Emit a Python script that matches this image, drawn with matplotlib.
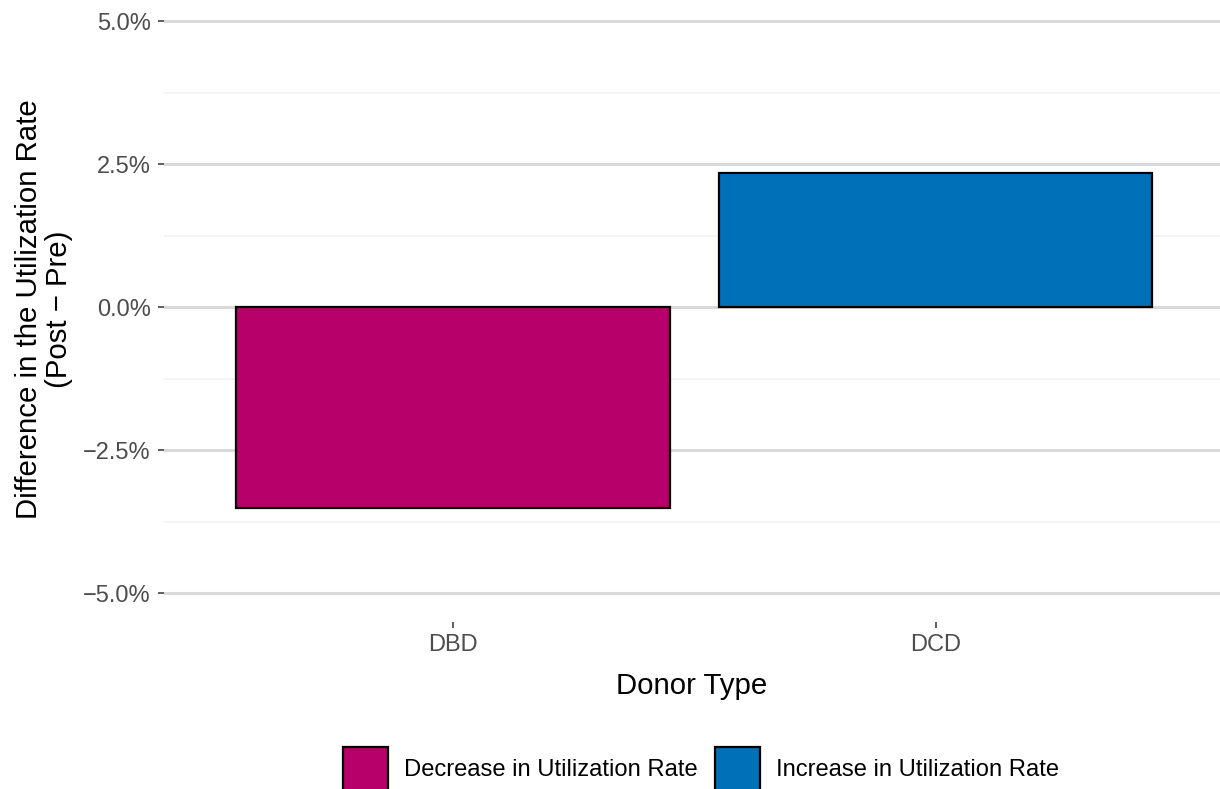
import matplotlib.pyplot as plt
from matplotlib.patches import Patch
from matplotlib.ticker import FixedLocator, FuncFormatter

plt.rcParams['font.family'] = ['Liberation Sans', 'DejaVu Sans']

# data (percentage points, post - pre)
donor_types = ['DBD', 'DCD']
diff_pct = [-3.50, 2.35]
legend_labels = ['Decrease in Utilization Rate', 'Increase in Utilization Rate']
bar_colors = ['#B8006A', '#0070B9']

W, H = 1220, 789
fig = plt.figure(figsize=(W / 100, H / 100), dpi=100)

# panel in pixel terms
left, right, top, bottom = 164, 1220, 0, 622
ax = fig.add_axes([left / W, 1 - bottom / H, (right - left) / W, (bottom - top) / H])

xs = list(range(1, len(donor_types) + 1))
colors = [bar_colors[0] if v < 0 else bar_colors[1] for v in diff_pct]
ax.bar(xs, diff_pct, width=0.9, color=colors, edgecolor='black', linewidth=1.6, zorder=3)

ax.set_xlim(0.4, 2.59)
ax.set_ylim(-5.5, 5.367)

ax.yaxis.set_major_locator(FixedLocator([-5, -2.5, 0, 2.5, 5]))
ax.yaxis.set_minor_locator(FixedLocator([-3.75, -1.25, 1.25, 3.75]))
ax.yaxis.set_major_formatter(FuncFormatter(lambda v, p: f'{v:.1f}%'.replace('-', '\u2212')))
ax.set_xticks(xs)
ax.set_xticklabels(donor_types)

ax.grid(axis='y', which='major', color='#D9D9D9', linewidth=2.2, zorder=0)
ax.grid(axis='y', which='minor', color='#F2F2F2', linewidth=1.2, zorder=0)
ax.set_axisbelow(True)

for s in ax.spines.values():
    s.set_visible(False)

ax.tick_params(axis='both', which='major', labelsize=17, labelcolor='#4D4D4D',
               color='#333333', length=4.5, width=1.1)
ax.tick_params(axis='y', pad=5)
ax.tick_params(axis='x', pad=4)
ax.tick_params(axis='y', which='minor', length=0)

fig.text((left + right) / 2 / W, 1 - 686 / H, 'Donor Type', ha='center', va='center',
         fontsize=21.2, color='black')
fig.text(44 / W, 1 - 309 / H, 'Difference in the Utilization Rate\n(Post \u2212 Pre)',
         rotation=90, ha='center', va='center', multialignment='center',
         fontsize=21.2, color='black', linespacing=1.12)

handles = [Patch(facecolor=c, edgecolor='black', linewidth=1.6) for c in bar_colors]
fig.legend(handles, legend_labels, loc='center', bbox_to_anchor=(701 / W, 1 - 769 / H),
           ncol=2, frameon=False, fontsize=17.1, handlelength=1.88, handleheight=2.45,
           handletextpad=0.68, columnspacing=0.76, borderpad=0, borderaxespad=0)

fig.savefig('out.png', dpi=100)
